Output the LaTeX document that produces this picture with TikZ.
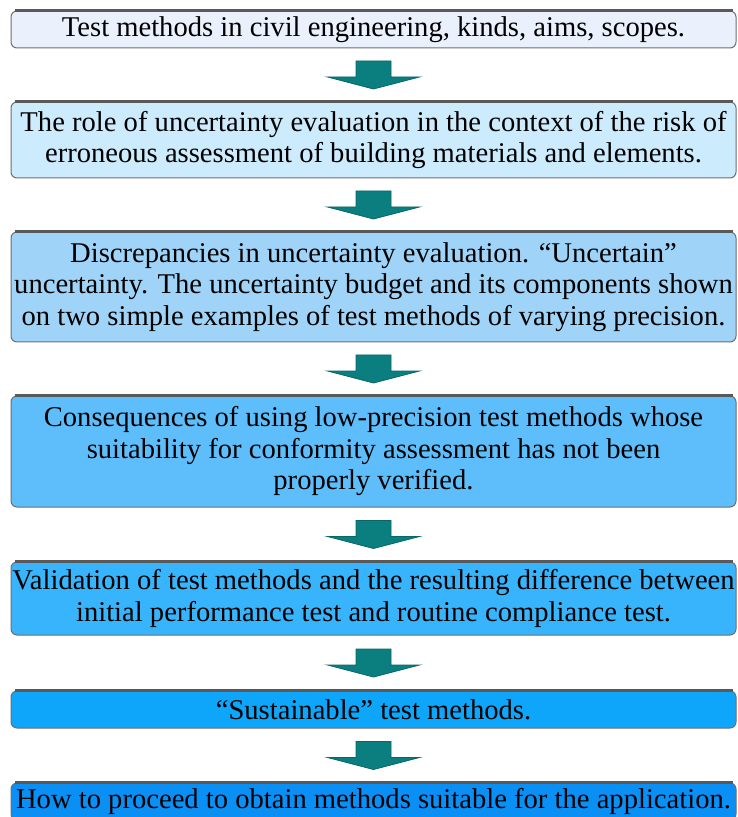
\documentclass[tikz,border=0pt]{standalone}
\usepackage{fontspec}
\setmainfont{Liberation Serif}
\usepackage{tikz}
\usetikzlibrary{calc}
\definecolor{StepOne}{HTML}{EAF0FC}
\definecolor{StepTwo}{HTML}{CCEBFD}
\definecolor{StepThree}{HTML}{9FD4F8}
\definecolor{StepFour}{HTML}{5DBEFB}
\definecolor{StepFive}{HTML}{38B4FD}
\definecolor{StepSix}{HTML}{0EA6FB}
\definecolor{StepSeven}{HTML}{0A8FF4}
\definecolor{ArrowTeal}{HTML}{0B7F80}
\definecolor{EdgeGrey}{HTML}{6E6E6E}

\begin{document}
\begin{tikzpicture}[x=0.5pt,y=0.5pt,
  stepbox/.style={draw=EdgeGrey,line width=0.5pt,rounded corners=3pt,
    minimum width=362.5pt,inner xsep=0pt,inner ysep=0pt,align=center,
    font=\fontsize{14.3}{15.75}\selectfont},
  topedge/.style={draw=black!65,line width=1.1pt},
  flowarrow/.style={fill=ArrowTeal,draw=ArrowTeal!80!black,line width=0.4pt}]
  \clip (0,0) rectangle (737,-817);
  % Stufen des Ablaufs
  \node[stepbox,fill=StepOne,minimum height=18.5pt] (b1) at (373.5,-29.5)
    {Test methods in civil engineering, kinds, aims, scopes.};
  \node[stepbox,fill=StepTwo,minimum height=38pt] (b2) at (373.5,-140)
    {The role of uncertainty evaluation in the context of the risk of\\
     erroneous assessment of building materials and elements.};
  \node[stepbox,fill=StepThree,minimum height=55pt] (b3) at (373.5,-287)
    {Discrepancies in uncertainty evaluation. ``Uncertain''\\
     uncertainty. The uncertainty budget and its components shown\\
     on two simple examples of test methods of varying precision.};
  \node[stepbox,fill=StepFour,minimum height=55.5pt] (b4) at (373.5,-451.5)
    {Consequences of using low-precision test methods whose\\
     suitability for conformity assessment has not been\\
     properly verified.};
  \node[stepbox,fill=StepFive,minimum height=36.5pt] (b5) at (373.5,-598.5)
    {Validation of test methods and the resulting difference between\\
     initial performance test and routine compliance test.};
  \node[stepbox,fill=StepSix,minimum height=18.5pt] (b6) at (373.5,-709.5)
    {``Sustainable'' test methods.};
  \node[stepbox,fill=StepSeven,minimum height=18.5pt] (b7) at (373.5,-801.5)
    {How to proceed to obtain methods suitable for the application.};
  % dunkle Oberkante
  \foreach \n in {b1,b2,b3,b4,b5,b6,b7}
    \draw[topedge] ([xshift=2pt]\n.north west) -- ([xshift=-2pt]\n.north east);
  % Blockpfeile zwischen den Stufen
  \foreach \a/\b in {b1/b2,b2/b3,b3/b4,b4/b5,b5/b6,b6/b7}{
    \path (\a.south) -- (\b.north) coordinate[pos=0.5] (m-\a);
    \draw[flowarrow] ($(m-\a)+(-17.5,14)$) -- ++(35,0) -- ++(0,-16) -- ++(28.5,0)
      -- ($(m-\a)+(0,-14)$) -- ($(m-\a)+(-46,-2)$) -- ++(28.5,0) -- cycle;
  }
\end{tikzpicture}
\end{document}
